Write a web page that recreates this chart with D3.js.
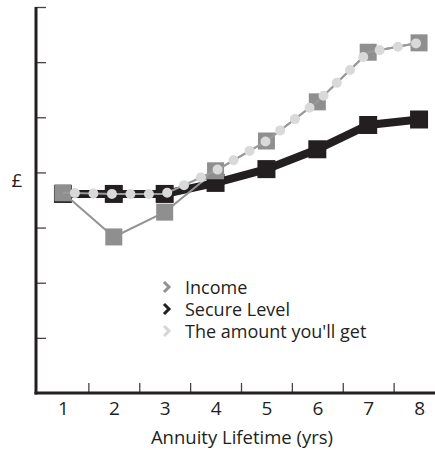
<!DOCTYPE html>
<html><head><meta charset="utf-8">
<script src="https://cdn.jsdelivr.net/npm/d3@7"></script>
<style>
body{margin:0;background:#fff;}
text{font-family:"Open Sans","Noto Sans",sans-serif;fill:#231f20;}
</style></head>
<body><svg id="c" width="435" height="450"></svg>
<script>
const years = [1,2,3,4,5,6,7,8];
const income = [3.63,2.83,3.28,4.03,4.57,5.28,6.18,6.35];
const secure = [3.61,3.61,3.61,3.81,4.06,4.42,4.86,4.96];
const amount = [3.63,3.61,3.61,4.03,4.57,5.28,6.18,6.35];
const yTicks = [1,2,3,4,5,6,7];
const legendLabels = ["Income","Secure Level","The amount you'll get"];
const legendColors = ["#939393","#231f20","#d6d6d6"];

const svg = d3.select("#c");
const x = d3.scaleLinear().domain([0.5,8.5]).range([37.5,444.5]);
const y = d3.scaleLinear().domain([0,7]).range([393,7]);

// y axis
const ya = svg.append("g").attr("transform","translate(36,0)")
  .call(d3.axisRight(y).tickValues(yTicks).tickSize(10).tickFormat(""));
ya.select(".domain").remove();
ya.selectAll(".tick line").attr("stroke","#444").attr("stroke-width",1.3);
svg.append("line").attr("x1",36).attr("x2",36).attr("y1",y(7)).attr("y2",394.5)
  .attr("stroke","#231f20").attr("stroke-width",3);

// x axis
const xa = svg.append("g").attr("transform","translate(0,393)")
  .call(d3.axisBottom(x).tickValues(years.slice(0,7).map(d=>d+0.5)).tickSize(-10).tickFormat(""));
xa.select(".domain").remove();
xa.selectAll(".tick line").attr("stroke","#444").attr("stroke-width",1.3);
const xl = svg.append("g").attr("transform","translate(0,393)")
  .call(d3.axisBottom(x).tickValues(years).tickSize(0).tickPadding(9).tickFormat(d3.format("d")));
xl.select(".domain").remove();
xl.selectAll("text").style("font-family","'Open Sans','Noto Sans',sans-serif").style("font-size","19px").attr("fill","#231f20");
svg.append("line").attr("x1",34.5).attr("x2",435).attr("y1",393).attr("y2",393)
  .attr("stroke","#231f20").attr("stroke-width",3);

svg.append("text").attr("x",242).attr("y",444).attr("text-anchor","middle")
  .style("font-size","18.5px").text("Annuity Lifetime (yrs)");
svg.append("text").attr("x",17).attr("y",187).attr("text-anchor","middle")
  .style("font-size","19px").text("£");

const line = d3.line().x((d,i)=>x(years[i])).y(d=>y(d));
const sq = 17;

// secure level
svg.append("path").datum(secure).attr("d",line).attr("fill","none")
  .attr("stroke","#231f20").attr("stroke-width",8);
svg.selectAll(".sec").data(secure).join("rect")
  .attr("x",(d,i)=>x(years[i])-9).attr("y",d=>y(d)-9).attr("width",18).attr("height",18)
  .attr("fill","#231f20");

// income
svg.append("path").datum(income).attr("d",line).attr("fill","none")
  .attr("stroke","#939393").attr("stroke-width",2);
svg.selectAll(".inc").data(income).join("rect")
  .attr("x",(d,i)=>x(years[i])-sq/2).attr("y",d=>y(d)-sq/2).attr("width",sq).attr("height",sq)
  .attr("fill","#8f8f8f");

// amount you'll get
svg.append("path").datum(amount).attr("d",line).attr("fill","none")
  .attr("stroke","#9a9a9a").attr("stroke-width",2);
svg.append("path").datum(amount).attr("d",line).attr("fill","none")
  .attr("stroke","#d9d9d9").attr("stroke-width",10).attr("stroke-linecap","round")
  .attr("stroke-dasharray","0,18.5").attr("stroke-dashoffset",6.5);

// legend
const lg = svg.append("g");
legendLabels.forEach((t,i)=>{
  const yy = 287 + i*22;
  lg.append("path").attr("d",`M${164},${yy-5} L${169},${yy} L${164},${yy+5}`)
    .attr("fill","none").attr("stroke",legendColors[i]).attr("stroke-width",3);
  lg.append("text").attr("x",185).attr("y",yy+6.5).style("font-size","18px").attr("fill","#333").text(t);
});
</script></body></html>
